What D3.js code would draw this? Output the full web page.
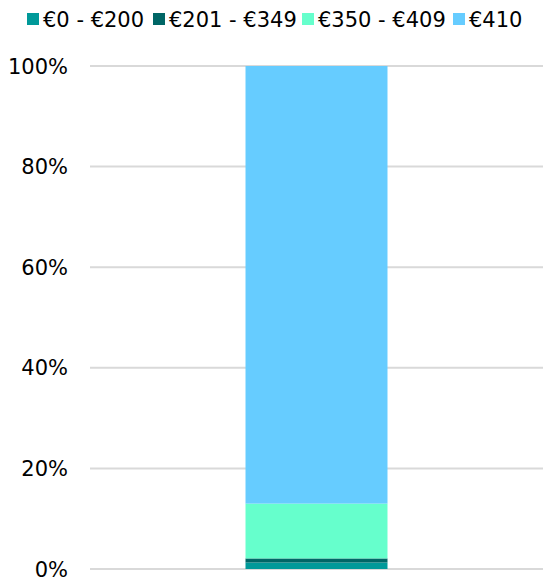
<!DOCTYPE html>
<html>
<head>
<meta charset="utf-8">
<script src="https://cdn.jsdelivr.net/npm/d3@7"></script>
<style>
  body { margin: 0; background: #fff; }
  svg text { font-family: Verdana, "DejaVu Sans", sans-serif; fill: #000; }
</style>
</head>
<body>
<svg id="chart"></svg>
<script>
// data
var categories = [""];
var seriesNames = ["€0 - €200", "€201 - €349", "€350 - €409", "€410"];
var seriesColors = ["#009999", "#006666", "#66ffcc", "#66ccff"];
var seriesValues = [1.3, 0.8, 10.9, 87.0];
var yTicks = [0, 20, 40, 60, 80, 100];

var width = 553;
var height = 582;

var svg = d3.select("#chart")
    .attr("width", width)
    .attr("height", height);

//scales
var xScale = d3.scaleBand()
    .domain(categories)
    .range([90, 543])
    .padding(0.5227);

var yScale = d3.scaleLinear()
    .domain([0, 100])
    .range([569, 66]);

//gridlines
svg.selectAll("line.grid")
    .data(yTicks)
    .enter()
    .append("line")
    .attr("class", "grid")
    .attr("x1", 90)
    .attr("x2", 543)
    .attr("y1", function(d){ return yScale(d); })
    .attr("y2", function(d){ return yScale(d); })
    .attr("stroke", "#d9d9d9")
    .attr("stroke-width", 2);

//tick labels
svg.selectAll("text.tick")
    .data(yTicks)
    .enter()
    .append("text")
    .attr("class", "tick")
    .attr("x", 68)
    .attr("y", function(d){ return yScale(d); })
    .attr("dy", "0.36em")
    .attr("text-anchor", "end")
    .style("font-size", "21px")
    .text(function(d){ return d + "%"; });

//stack the series
var stacked = [];
var base = 0;
seriesValues.forEach(function(v, i){
    stacked.push({name: seriesNames[i], color: seriesColors[i], y0: base, y1: base + v});
    base += v;
});

svg.selectAll("rect.seg")
    .data(stacked)
    .enter()
    .append("rect")
    .attr("class", "seg")
    .attr("x", xScale(categories[0]))
    .attr("width", xScale.bandwidth())
    .attr("y", function(d){ return yScale(d.y1); })
    .attr("height", function(d){ return yScale(d.y0) - yScale(d.y1); })
    .attr("fill", function(d){ return d.color; });

//legend
var legendX = [27, 153, 302, 453];
var legend = svg.selectAll("g.legend")
    .data(stacked)
    .enter()
    .append("g")
    .attr("class", "legend")
    .attr("transform", function(d, i){ return "translate(" + legendX[i] + ",0)"; });

legend.append("rect")
    .attr("x", 0)
    .attr("y", 13)
    .attr("width", 12)
    .attr("height", 12)
    .attr("fill", function(d){ return d.color; });

legend.append("text")
    .attr("x", 16)
    .attr("y", 27)
    .style("font-size", "21px")
    .text(function(d){ return d.name; });
</script>
</body>
</html>
